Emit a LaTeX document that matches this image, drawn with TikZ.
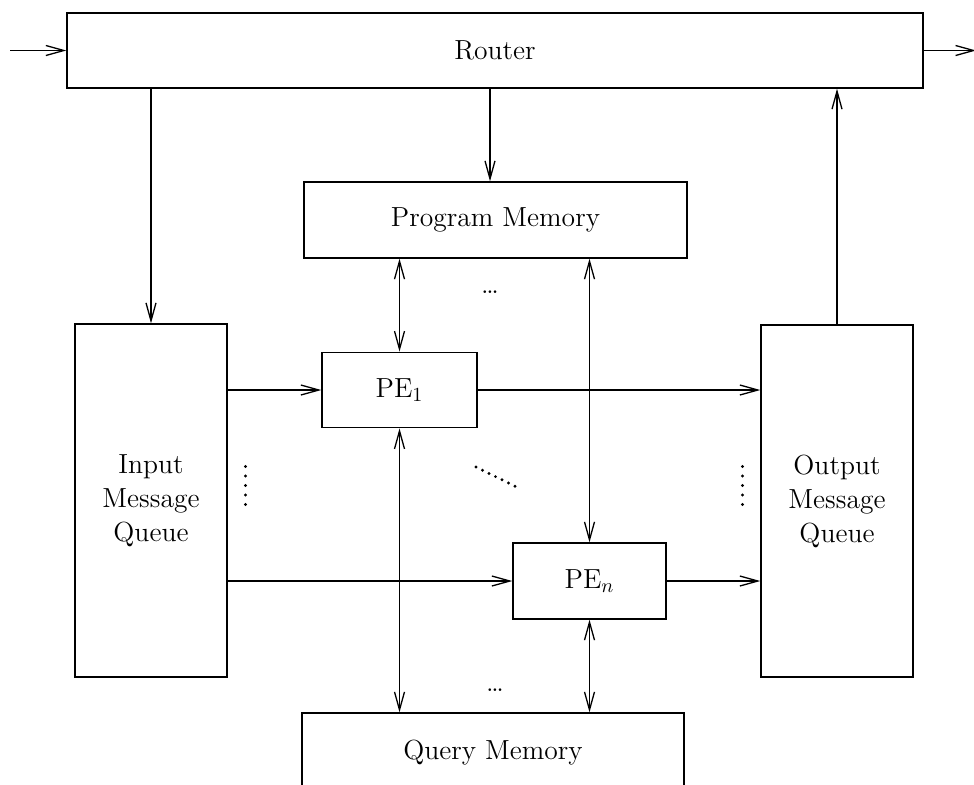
\documentclass[tikz,border=0pt]{standalone}
\usetikzlibrary{arrows.meta}
\begin{document}
\begin{tikzpicture}[x=0.5pt,y=-0.5pt,
  every node/.style={font=\fontsize{13.8}{17}\selectfont},
  box/.style={draw, line width=0.7pt, inner sep=0pt, align=center},
  link/.style={line width=0.65pt, -{Straight Barb[length=9pt,width=5pt,line width=0.65pt]}},
  dlink/.style={line width=0.65pt, {Straight Barb[length=9pt,width=5pt,line width=0.65pt]}-{Straight Barb[length=9pt,width=5pt,line width=0.65pt]}},
  dotmark/.style={fill, circle, inner sep=0pt, minimum size=1.6pt}]
  \clip (0,0) rectangle (974,784);

  % boxes
  \node[box, minimum width=428pt, minimum height=37.5pt] (router) at (495,50.5) {Router};
  \node[box, minimum width=191.5pt, minimum height=38pt] (pm) at (495.5,220) {Program Memory};
  \node[box, minimum width=76pt, minimum height=176.5pt] (imq) at (151,500.5) {Input\\Message\\Queue};
  \node[box, minimum width=76pt, minimum height=176pt] (omq) at (837,501) {Output\\Message\\Queue};
  \node[box, minimum width=77.5pt, minimum height=37.75pt] (pe1) at (399.5,390) {PE$_1$};
  \node[box, minimum width=76.5pt, minimum height=38pt] (pen) at (589.5,581) {PE$_n$};
  \node[box, minimum width=191pt, minimum height=40pt] (qm) at (493,753) {Query Memory};

  % external ends
  \coordinate (in) at (10,50.5);
  \coordinate (out) at (976,50.5);
  \coordinate (pmfeed) at (490,0);

  % router connections
  \draw[link] (in) -- (router.west);
  \draw[link] (router.east) -- (out);
  \draw[link] (router.south -| imq) -- (imq.north);
  \draw[link] (router.south -| pmfeed) -- (pm.north -| pmfeed);
  \draw[link] (omq.north) -- (router.south -| omq);

  % memory <-> processing elements
  \draw[dlink] (pm.south -| pe1) -- (pe1.north);
  \draw[dlink] (pm.south -| pen) -- (pen.north);
  \draw[dlink] (pe1.south) -- (qm.north -| pe1);
  \draw[dlink] (pen.south) -- (qm.north -| pen);

  % message queues <-> processing elements
  \draw[link] (imq.east |- pe1) -- (pe1.west);
  \draw[link] (pe1.east) -- (omq.west |- pe1);
  \draw[link] (imq.east |- pen) -- (pen.west);
  \draw[link] (pen.east) -- (omq.west |- pen);

  % ellipses
  \node (dtop) at (490,292) {\ldots};
  \node (dbot) at (495,690) {\ldots};
  \foreach \k in {0,...,4} {
    \node[dotmark] (vl\k) at (245.5,466.5+9.5*\k) {};
    \node[dotmark] (vr\k) at (742.5,466.5+9.5*\k) {};
  }
  \foreach \k in {0,...,6} {
    \node[dotmark] (dg\k) at (476+6.5*\k,467+3.2*\k) {};
  }
\end{tikzpicture}
\end{document}
